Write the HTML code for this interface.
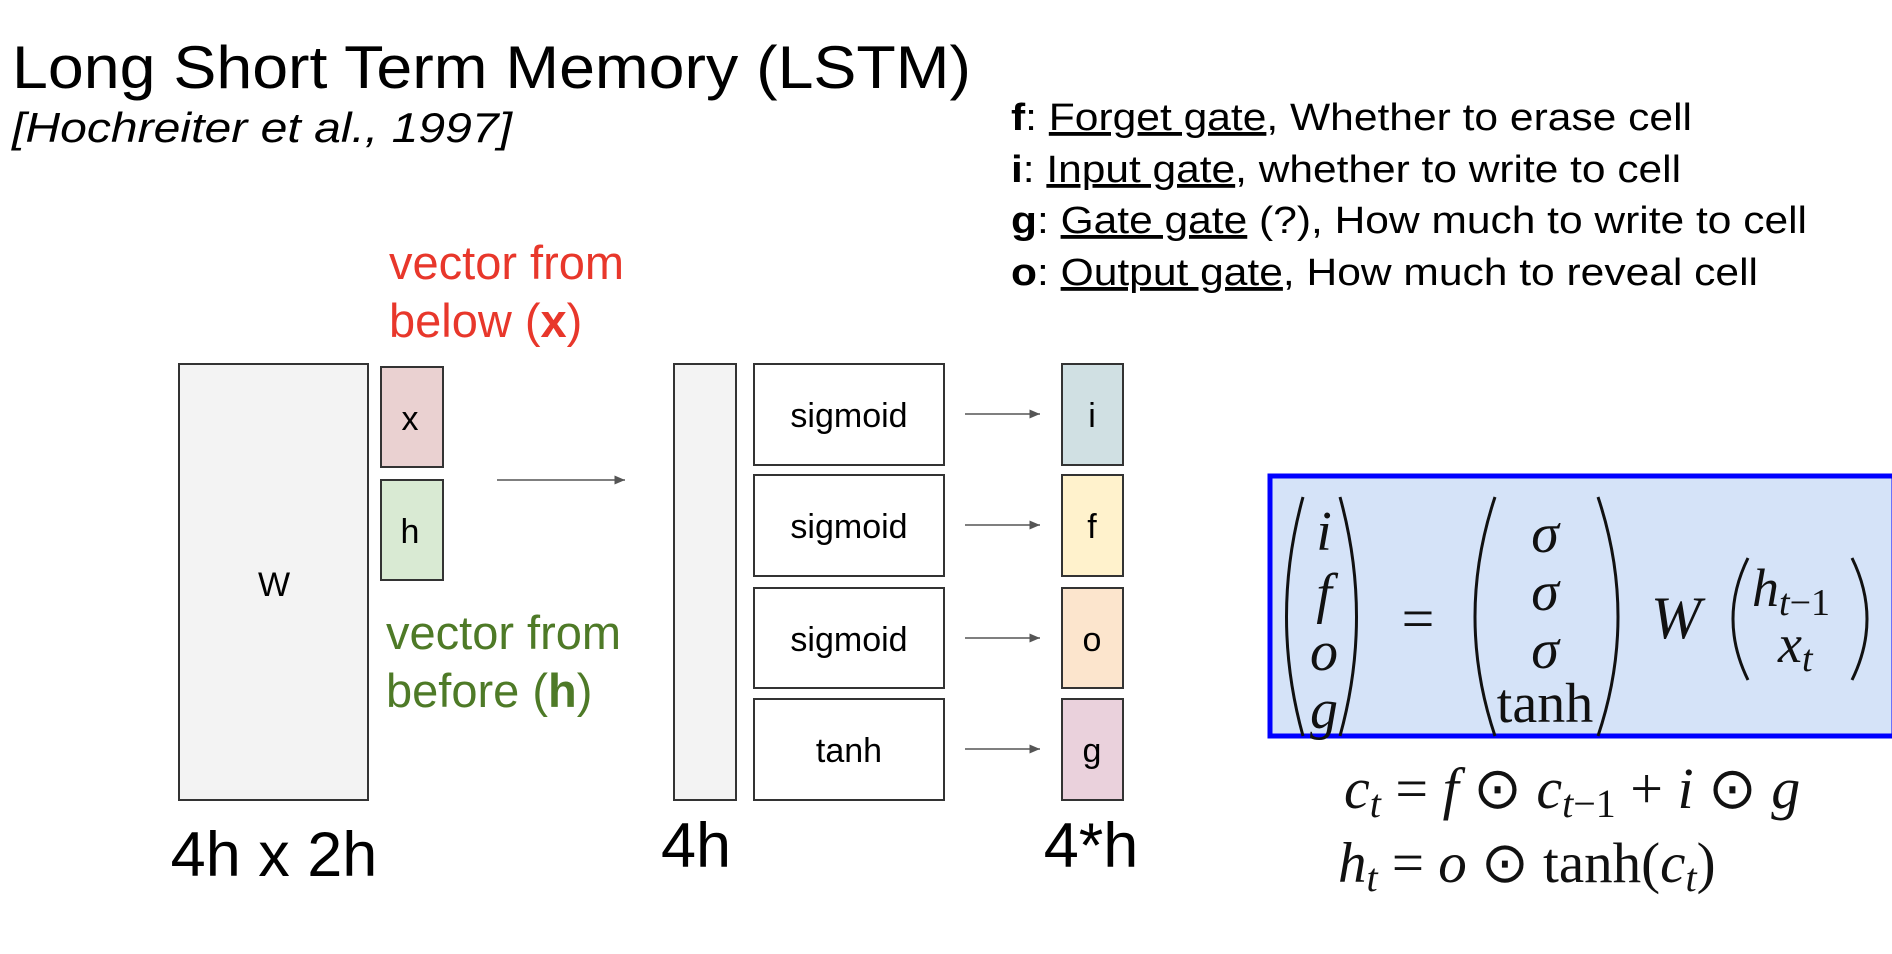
<!DOCTYPE html>
<html><head><meta charset="utf-8"><style>
html,body{margin:0;padding:0;background:#fff;width:1892px;height:954px;overflow:hidden}
svg{display:block}
.s{font-family:"Liberation Sans",sans-serif}
.m{font-family:"Liberation Serif",serif}
</style></head><body>
<svg width="1892" height="954" viewBox="0 0 1892 954" xmlns="http://www.w3.org/2000/svg">
<defs><marker id="a" markerWidth="8" markerHeight="8" refX="7" refY="4" orient="auto"><path d="M0,1 L7,4 L0,7 Z" fill="#555"/></marker></defs>
<g class="s">
<text x="12" y="88" font-size="60" textLength="959" lengthAdjust="spacingAndGlyphs">Long Short Term Memory (LSTM)</text>
<text x="12" y="142" font-size="42" font-style="italic" textLength="500" lengthAdjust="spacingAndGlyphs">[Hochreiter et al., 1997]</text>
<g font-size="38">
<text x="1011" y="130" textLength="681" lengthAdjust="spacingAndGlyphs"><tspan font-weight="bold">f</tspan>: <tspan text-decoration="underline">Forget gate</tspan>, Whether to erase cell</text>
<text x="1011" y="182" textLength="670" lengthAdjust="spacingAndGlyphs"><tspan font-weight="bold">i</tspan>: <tspan text-decoration="underline">Input gate</tspan>, whether to write to cell</text>
<text x="1011" y="233" textLength="796" lengthAdjust="spacingAndGlyphs"><tspan font-weight="bold">g</tspan>: <tspan text-decoration="underline">Gate gate</tspan> (?), How much to write to cell</text>
<text x="1011" y="285" textLength="747" lengthAdjust="spacingAndGlyphs"><tspan font-weight="bold">o</tspan>: <tspan text-decoration="underline">Output gate</tspan>, How much to reveal cell</text>
</g>
<g font-size="47" fill="#e8372b">
<text x="389" y="279">vector from</text>
<text x="389" y="337">below (<tspan font-weight="bold">x</tspan>)</text>
</g>
<g font-size="47" fill="#4e7a27">
<text x="386" y="649">vector from</text>
<text x="386" y="707">before (<tspan font-weight="bold">h</tspan>)</text>
</g>
<g stroke="#333" stroke-width="2">
<rect x="179" y="364" width="189" height="436" fill="#f3f3f3"/>
<rect x="381" y="367" width="62" height="100" fill="#ead1d1"/>
<rect x="381" y="480" width="62" height="100" fill="#d9ead3"/>
<rect x="674" y="364" width="62" height="436" fill="#f3f3f3"/>
<rect x="754" y="364" width="190" height="101" fill="#fff"/>
<rect x="754" y="475" width="190" height="101" fill="#fff"/>
<rect x="754" y="588" width="190" height="100" fill="#fff"/>
<rect x="754" y="699" width="190" height="101" fill="#fff"/>
<rect x="1062" y="364" width="61" height="101" fill="#d0e0e3"/>
<rect x="1062" y="475" width="61" height="101" fill="#fff2cc"/>
<rect x="1062" y="588" width="61" height="100" fill="#fce5cd"/>
<rect x="1062" y="699" width="61" height="101" fill="#ead1dc"/>
</g>
<g stroke="#555" stroke-width="1.5" marker-end="url(#a)">
<line x1="497" y1="480" x2="625" y2="480"/>
<line x1="965" y1="414" x2="1040" y2="414"/>
<line x1="965" y1="525" x2="1040" y2="525"/>
<line x1="965" y1="638" x2="1040" y2="638"/>
<line x1="965" y1="749" x2="1040" y2="749"/>
</g>
<g font-size="34" text-anchor="middle">
<text x="274" y="596">W</text>
<text x="410" y="430">x</text>
<text x="410" y="543">h</text>
<text x="849" y="427">sigmoid</text>
<text x="849" y="538">sigmoid</text>
<text x="849" y="651">sigmoid</text>
<text x="849" y="762">tanh</text>
<text x="1092" y="427">i</text>
<text x="1092" y="538">f</text>
<text x="1092" y="651">o</text>
<text x="1092" y="762">g</text>
</g>
<g font-size="63" text-anchor="middle">
<text x="274" y="876">4h x 2h</text>
<text x="696" y="867">4h</text>
<text x="1091" y="867">4*h</text>
</g>
</g>
<rect x="1270" y="476" width="624" height="260" fill="#d5e3f8" stroke="#0000ff" stroke-width="5"/>
<g class="m" fill="#111">
<g font-size="56" font-style="italic" text-anchor="middle">
<text x="1324" y="550">i</text>
<text x="1324" y="612">f</text>
<text x="1324" y="670">o</text>
<text x="1324" y="728">g</text>
<text x="1545" y="552">σ</text>
<text x="1545" y="610">σ</text>
<text x="1545" y="668">σ</text>
<text x="1676" y="638" font-size="60">W</text>
</g>
<text x="1545" y="722" font-size="56" text-anchor="middle">tanh</text>
<text x="1418" y="638" font-size="58" text-anchor="middle">=</text>
<g fill="none" stroke="#111" stroke-width="3">
<path d="M1303,497 Q1270,617 1303,736"/>
<path d="M1340,497 Q1373,617 1340,736"/>
<path d="M1495,497 Q1455,617 1495,736"/>
<path d="M1598,497 Q1638,617 1598,736"/>
<path d="M1748,558 Q1718,619 1748,680"/>
<path d="M1852,558 Q1882,619 1852,680"/>
</g>
<text x="1752" y="606" font-size="54" font-style="italic">h<tspan font-size="38" dy="9">t</tspan><tspan font-size="38" font-style="normal">−1</tspan></text>
<text x="1778" y="662" font-size="54" font-style="italic">x<tspan font-size="38" dy="9">t</tspan></text>
<text x="1344" y="808" font-size="58"><tspan font-style="italic">c</tspan><tspan font-style="italic" font-size="40" dy="9">t</tspan><tspan dy="-9"> = </tspan><tspan font-style="italic">f</tspan> ⊙ <tspan font-style="italic">c</tspan><tspan font-style="italic" font-size="40" dy="9">t</tspan><tspan font-size="40">−1</tspan><tspan dy="-9"> + </tspan><tspan font-style="italic">i</tspan> ⊙ <tspan font-style="italic">g</tspan></text>
<text x="1338" y="882" font-size="57"><tspan font-style="italic">h</tspan><tspan font-style="italic" font-size="40" dy="9">t</tspan><tspan dy="-9"> = </tspan><tspan font-style="italic">o</tspan> ⊙ tanh(<tspan font-style="italic">c</tspan><tspan font-style="italic" font-size="40" dy="9">t</tspan><tspan dy="-9">)</tspan></text>
</g>
</svg>
</body></html>
